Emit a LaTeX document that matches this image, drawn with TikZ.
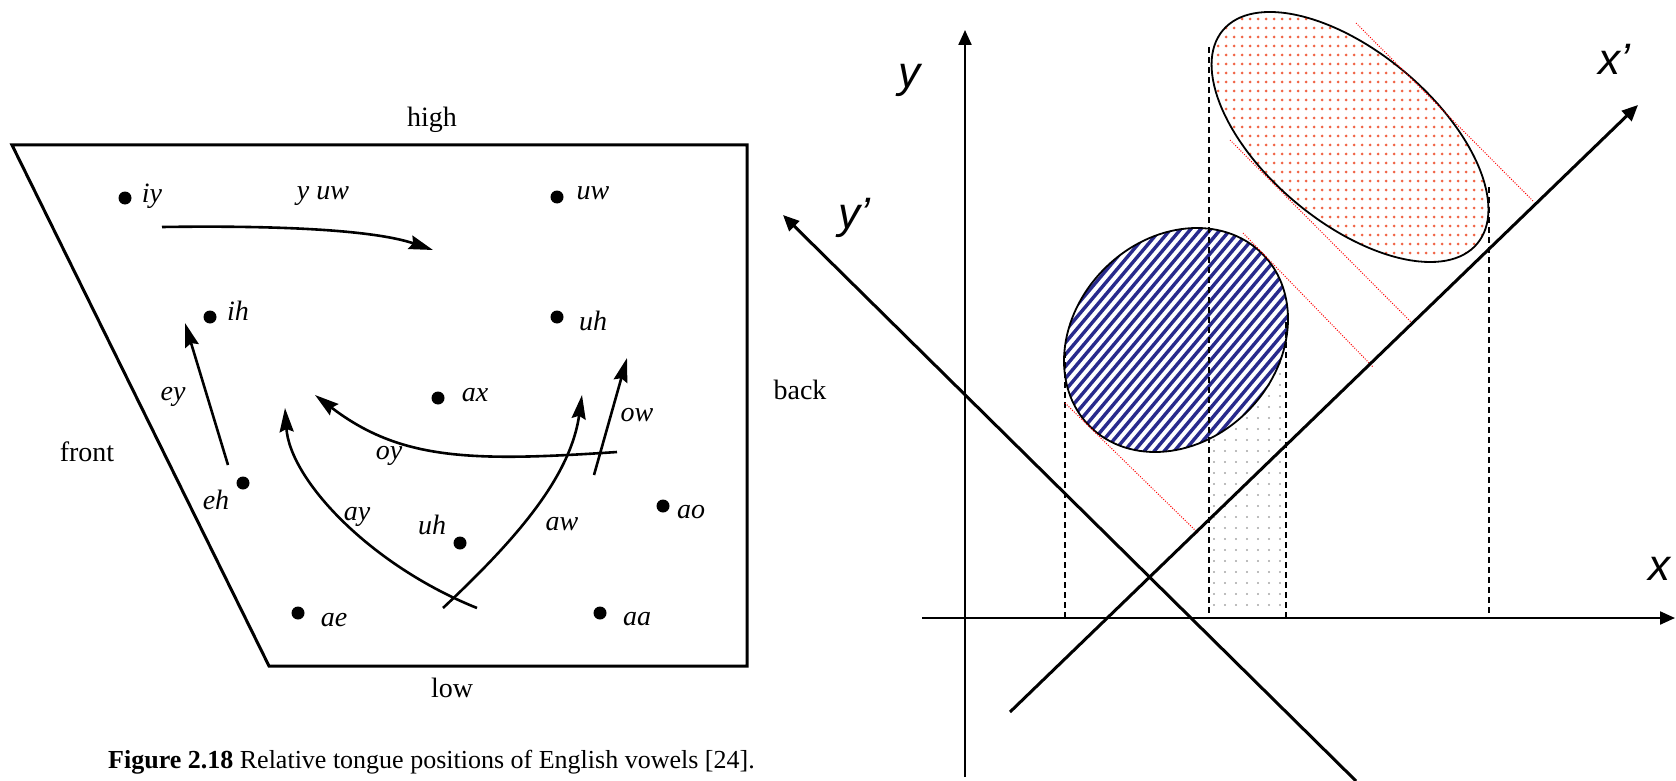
\documentclass[tikz,border=0pt]{standalone}
\usepackage{fontspec}
\setmainfont{Liberation Serif}
\newfontfamily\axisfont{Liberation Sans}
\usetikzlibrary{arrows.meta}
\definecolor{stripeblue}{RGB}{40,42,140}
\definecolor{dotred}{RGB}{240,100,70}
\definecolor{dotgray}{RGB}{165,165,165}

\begin{document}
\begin{tikzpicture}[x=1pt,y=-1pt,
    vowel/.style={circle,fill,inner sep=0pt,minimum size=13pt},
    sym/.style={font=\fontsize{28}{30}\selectfont\itshape,inner sep=0pt},
    side/.style={font=\fontsize{28}{30}\selectfont,inner sep=0pt},
    glide/.style={line width=2.6pt,-{Stealth[length=24pt,width=14pt,inset=3pt]}},
    axis/.style={line width=2.2pt,-{Triangle[length=15pt,width=13pt]}},
    rotaxis/.style={line width=3pt,-{Triangle[length=16pt,width=14pt]}},
    proj/.style={line width=1.6pt,dash pattern=on 6pt off 4pt},
    tangent/.style={red,line width=1pt,dash pattern=on 1pt off 1.5pt},
    axlabel/.style={font=\axisfont\fontsize{44}{46}\selectfont\itshape,inner sep=0pt,anchor=base west}]

\useasboundingbox (0,0) rectangle (1676,781);

% vowel chart
\draw[line width=3pt] (12,145) -- (747,145) -- (747,666) -- (269,666) -- cycle;
\node[side] (high) at (432,120) {high};
\node[side] (low) at (452,688) {low};
\node[side] (front) at (87,452) {front};
\node[side] (back) at (800,390) {back};

\node[vowel] (iy) at (125,198) {};
\node[vowel] (uw) at (557,197) {};
\node[vowel] (ih) at (210,317) {};
\node[vowel] (uhup) at (557,317) {};
\node[vowel] (ax) at (438,398) {};
\node[vowel] (eh) at (243,483) {};
\node[vowel] (ao) at (663,506) {};
\node[vowel] (uhlow) at (460,543) {};
\node[vowel] (ae) at (298,613) {};
\node[vowel] (aa) at (600,613) {};

\node[sym] (iylab) at (152,196) {iy};
\node[sym] (yuwlab) at (323,196) {y uw};
\node[sym] (uwlab) at (593,193) {uw};
\node[sym] (ihlab) at (238,311) {ih};
\node[sym] (uhuplab) at (593,321) {uh};
\node[sym] (eylab) at (173,397) {ey};
\node[sym] (axlab) at (475,395) {ax};
\node[sym] (oylab) at (389,456) {oy};
\node[sym] (owlab) at (637,415) {ow};
\node[sym] (ehlab) at (216,500) {eh};
\node[sym] (aylab) at (357,517) {ay};
\node[sym] (uhlowlab) at (432,525) {uh};
\node[sym] (awlab) at (562,524) {aw};
\node[sym] (aolab) at (691,512) {ao};
\node[sym] (aelab) at (334,620) {ae};
\node[sym] (aalab) at (637,619) {aa};

\coordinate (yuwfrom) at (162,227);
\coordinate (yuwto) at (433,250);
\coordinate (eyfrom) at (228,465);
\coordinate (eyto) at (185,323);
\coordinate (owfrom) at (594,475);
\coordinate (owto) at (627,358);
\coordinate (oyfrom) at (617,452);
\coordinate (oyto) at (315,395);
\coordinate (ayfrom) at (477,608);
\coordinate (ayto) at (285,408);
\coordinate (awfrom) at (443,608);
\coordinate (awto) at (582,395);

\draw[glide] (yuwfrom) .. controls (300,225) and (380,232) .. (yuwto);
\draw[glide] (eyfrom) -- (eyto);
\draw[glide] (owfrom) -- (owto);
\draw[glide] (oyfrom) .. controls (470,462) and (400,460) .. (oyto);
\draw[glide] (ayfrom) .. controls (370,565) and (290,480) .. (ayto);
\draw[glide] (awfrom) .. controls (510,545) and (570,480) .. (awto);

\node[anchor=base west,inner sep=0pt,font=\fontsize{26}{28}\selectfont] (caption) at (108,768)
    {\textbf{Figure 2.18} Relative tongue positions of English vowels [24].};

% projections
\foreach \x in {1214,1225,...,1282}
    \foreach \y in {330,341,...,612}
        \fill[dotgray] (\x,\y) circle[radius=1.2];

\begin{scope}
    \clip[rotate around={-40:(1350,137)}] (1350,137) ellipse[x radius=166,y radius=85];
    \foreach \x in {1210,1218,...,1492}
        \foreach \y in {10,19,...,264}
            \fill[dotred] (\x,\y) circle[radius=1.5];
\end{scope}
\draw[line width=1.8pt,rotate around={-40:(1350,137)}] (1350,137) ellipse[x radius=166,y radius=85];

\begin{scope}
    \clip[rotate around={45:(1176,340)}] (1176,340) ellipse[x radius=122,y radius=101];
    \fill[white] (1000,200) rectangle (1350,480);
    \foreach \x in {830,840,...,1300}
        \draw[stripeblue,line width=3.4pt] (\x,480) -- ++(252,-300);
\end{scope}
\draw[line width=1.8pt,rotate around={45:(1176,340)}] (1176,340) ellipse[x radius=122,y radius=101];

\draw[proj] (1065,352) -- (1065,618);
\draw[proj] (1209,47) -- (1209,618);
\draw[proj] (1286,322) -- (1286,618);
\draw[proj] (1489,187) -- (1489,618);

\draw[tangent] (1065,403) -- (1198,533);
\draw[tangent] (1243,233) -- (1373,367);
\draw[tangent] (1230,140) -- (1411,322);
\draw[tangent] (1356,23) -- (1534,202);

% axes
\coordinate (xfrom) at (922,618);
\coordinate (xto) at (1675,618);
\coordinate (yfrom) at (965,777);
\coordinate (yto) at (965,30);
\coordinate (xpfrom) at (1010,712);
\coordinate (xpto) at (1638,105);
\coordinate (ypfrom) at (1356,781);
\coordinate (ypto) at (783,215);

\draw[axis] (xfrom) -- (xto);
\draw[axis] (yfrom) -- (yto);
\draw[rotaxis] (xpfrom) -- (xpto);
\draw[rotaxis] (ypfrom) -- (ypto);

\node[axlabel] (ylab) at (898,88) {y};
\node[axlabel] (xlab) at (1648,580) {x};
\node[axlabel] (xplab) at (1598,75) {x’};
\node[axlabel] (yplab) at (838,228) {y’};
\end{tikzpicture}
\end{document}
